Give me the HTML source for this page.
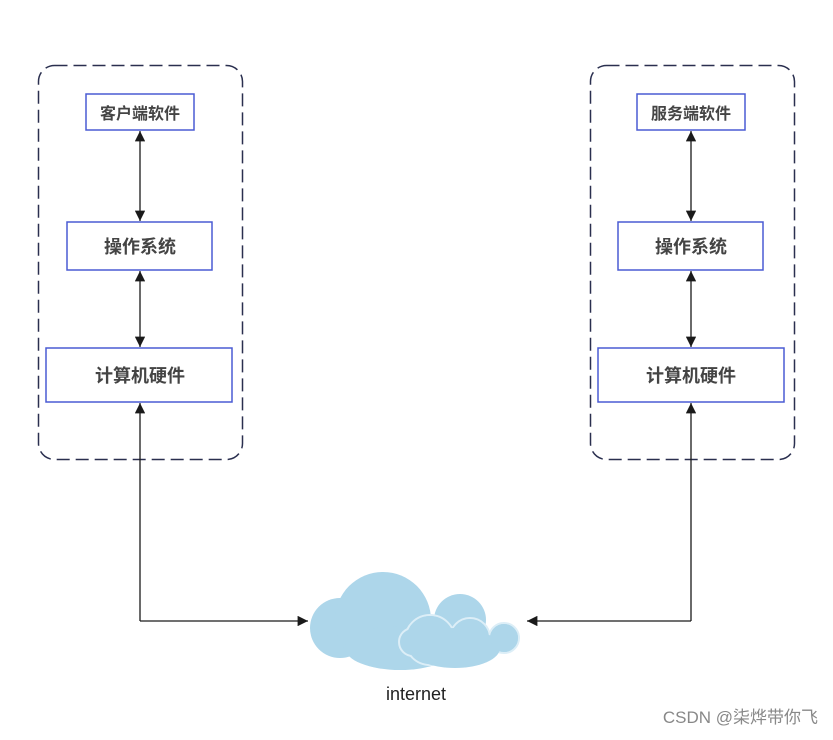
<!DOCTYPE html>
<html><head><meta charset="utf-8"><style>
body{margin:0;background:#fff;}
svg text{font-family:"Liberation Sans","Noto Sans CJK SC",sans-serif;}
</style></head><body>
<svg width="833" height="735" viewBox="0 0 833 735" xmlns="http://www.w3.org/2000/svg">
<defs>
<marker id="a" viewBox="0 0 10 10" refX="10" refY="5" markerWidth="8" markerHeight="8" orient="auto-start-reverse"><path d="M0,0 L10,5 L0,10 z" fill="#1a1a1a"/></marker>
</defs>
<g fill="none" stroke="#2a2f4f" stroke-width="1.5" stroke-dasharray="13,6">
<rect x="38.5" y="65.5" width="204" height="394" rx="16"/>
<rect x="590.5" y="65.5" width="204" height="394" rx="16"/>
</g>
<g fill="#fff" stroke="#4a5bd4" stroke-width="1.5">
<rect x="86" y="94" width="108" height="36"/>
<rect x="67" y="222" width="145" height="48"/>
<rect x="46" y="348" width="186" height="54"/>
<rect x="637" y="94" width="108" height="36"/>
<rect x="618" y="222" width="145" height="48"/>
<rect x="598" y="348" width="186" height="54"/>
</g>
<g font-weight="bold" fill="#444" text-anchor="middle">
<text x="140" y="119" font-size="16">客户端软件</text>
<text x="140" y="253" font-size="18">操作系统</text>
<text x="140" y="382" font-size="18">计算机硬件</text>
<text x="691" y="119" font-size="16">服务端软件</text>
<text x="691" y="253" font-size="18">操作系统</text>
<text x="691" y="382" font-size="18">计算机硬件</text>
</g>
<g stroke="#1a1a1a" stroke-width="1.3" fill="none" marker-start="url(#a)" marker-end="url(#a)">
<line x1="140" y1="131" x2="140" y2="221"/>
<line x1="140" y1="271" x2="140" y2="347"/>
<line x1="691" y1="131" x2="691" y2="221"/>
<line x1="691" y1="271" x2="691" y2="347"/>
</g>
<g stroke="#1a1a1a" stroke-width="1.3" fill="none">
<path d="M140,621 L140,403" marker-end="url(#a)"/>
<path d="M140,621 L308,621" marker-end="url(#a)"/>
<path d="M691,621 L691,403" marker-end="url(#a)"/>
<path d="M691,621 L527,621" marker-end="url(#a)"/>
</g>
<g fill="#add6ea">
<circle cx="340" cy="628" r="30"/>
<circle cx="383" cy="620" r="48"/>
<circle cx="460" cy="620" r="26"/>
<ellipse cx="400" cy="648" rx="55" ry="22"/>
</g>
<g fill="#add6ea" stroke="#dceef7" stroke-width="2">
<circle cx="430" cy="640" r="25"/>
<circle cx="413" cy="642" r="14"/>
<circle cx="470" cy="638" r="20"/>
<circle cx="504" cy="638" r="15"/>
</g>
<g fill="#add6ea">
<ellipse cx="455" cy="648" rx="45" ry="20"/>
<circle cx="430" cy="640" r="24"/>
<circle cx="470" cy="638" r="19"/>
<circle cx="504" cy="638" r="14"/>
</g>
<text x="416" y="700" font-size="18" fill="#222" text-anchor="middle">internet</text>
<text x="818" y="723" font-size="17" fill="#888" text-anchor="end">CSDN @柒烨带你飞</text>
</svg>
</body></html>
